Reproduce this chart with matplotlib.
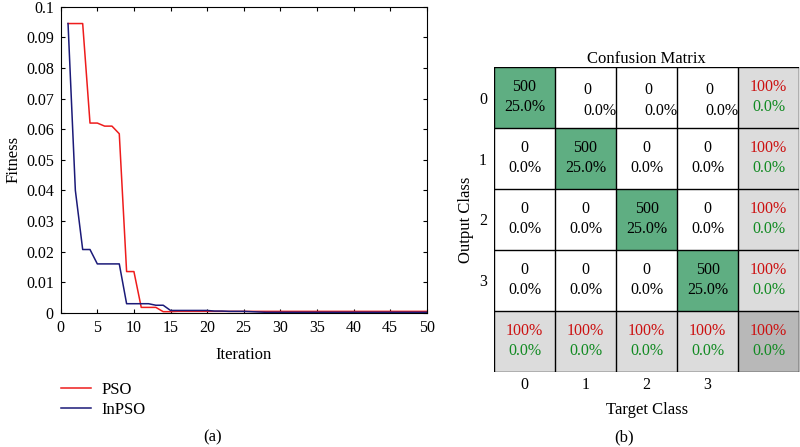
import matplotlib
matplotlib.use('Agg')
import matplotlib.pyplot as plt
import numpy as np

plt.rcParams['font.family'] = ['Liberation Serif', 'DejaVu Serif']
plt.rcParams['font.size'] = 11.5

# 收敛曲线数据
iterations = list(range(1, 51))
pso = [0.0945, 0.0945, 0.0945, 0.062, 0.062, 0.061, 0.061, 0.0585, 0.0135, 0.0135,
       0.0018, 0.0018, 0.0018, 0.0004, 0.0004] + [0.0005] * 35
inpso = [0.0945, 0.040, 0.0207, 0.0207, 0.016, 0.016, 0.016, 0.016, 0.003, 0.003,
         0.003, 0.003, 0.0025, 0.0025, 0.0008, 0.0008, 0.0008, 0.0008, 0.0008, 0.0008,
         0.0006, 0.0006, 0.0005, 0.0005, 0.0005, 0.0004, 0.0003] + [0.0002] * 23

# 混淆矩阵数据
classes = ['0', '1', '2', '3']
counts = [[500, 0, 0, 0],
          [0, 500, 0, 0],
          [0, 0, 500, 0],
          [0, 0, 0, 500]]
row_acc = ['100%', '100%', '100%', '100%']
col_acc = ['100%', '100%', '100%', '100%']
all_acc = '100%'

fig = plt.figure(figsize=(8, 4.47), dpi=100)

# (a) 适应度曲线
ax1 = fig.add_axes([0.0759, 0.300, 0.4575, 0.685])
l1, = ax1.plot(iterations, pso, color='#ee1c1c', lw=1.1, label='PSO')
l2, = ax1.plot(iterations, inpso, color='#1b1a78', lw=1.1, label='InPSO')
ax1.set_xlim(0, 50)
ax1.set_ylim(0, 0.1)
ax1.set_xticks(range(0, 51, 5))
ax1.set_yticks(np.arange(0, 0.101, 0.01))
ax1.set_yticklabels(['0', '0.01', '0.02', '0.03', '0.04', '0.05', '0.06', '0.07',
                     '0.08', '0.09', '0.1'])
ax1.tick_params(direction='in', top=True, right=True, length=3, pad=5)
ax1.set_xlabel('Iteration', fontsize=12, labelpad=8)
ax1.set_ylabel('Fitness', fontsize=12, labelpad=3)
fig.legend(handles=[l1, l2], loc='upper left', bbox_to_anchor=(0.058, 0.18),
           frameon=False, handlelength=1.8, handletextpad=0.6, fontsize=12,
           labelspacing=0.25)
fig.text(0.266, 0.022, '(a)', ha='center', va='center', fontsize=12)

# (b) 混淆矩阵
ax2 = fig.add_axes([0.6175, 0.168, 0.3815, 0.682])
n = len(classes)
total = sum(sum(r) for r in counts)
green = np.array([95, 174, 130]) / 255
white = np.array([1.0, 1.0, 1.0])
grey = np.array([220, 220, 220]) / 255
dark = np.array([184, 184, 184]) / 255
img = np.zeros((n + 1, n + 1, 3))
for i in range(n + 1):
    for j in range(n + 1):
        if i == n and j == n:
            img[i, j] = dark
        elif i == n or j == n:
            img[i, j] = grey
        elif i == j:
            img[i, j] = green
        else:
            img[i, j] = white
ax2.imshow(img, extent=(-0.5, n + 0.5, n + 0.5, -0.5), aspect='auto')
for k in range(n + 2):
    ax2.axhline(k - 0.5, color='black', lw=1.0)
    ax2.axvline(k - 0.5, color='black', lw=1.0)

for i in range(n):
    for j in range(n):
        c = counts[i][j]
        pct = f'{100 * c / total:.1f}%'
        if i == 0 and i != j:
            ax2.text(j - 0.03, i - 0.12, str(c), ha='left', va='center', fontsize=11.5)
            ax2.text(j - 0.03, i + 0.22, pct, ha='left', va='center', fontsize=11.5)
        else:
            ax2.text(j, i - 0.17, str(c), ha='center', va='center', fontsize=11.5)
            ax2.text(j, i + 0.16, pct, ha='center', va='center', fontsize=11.5)
    ax2.text(n, i - 0.17, row_acc[i], ha='center', va='center', color='#cc1111', fontsize=11.5)
    ax2.text(n, i + 0.16, '0.0%', ha='center', va='center', color='#118a22', fontsize=11.5)
for j in range(n):
    ax2.text(j, n - 0.17, col_acc[j], ha='center', va='center', color='#cc1111', fontsize=11.5)
    ax2.text(j, n + 0.16, '0.0%', ha='center', va='center', color='#118a22', fontsize=11.5)
ax2.text(n, n - 0.17, all_acc, ha='center', va='center', color='#cc1111', fontsize=11.5)
ax2.text(n, n + 0.16, '0.0%', ha='center', va='center', color='#118a22', fontsize=11.5)

ax2.set_xlim(-0.5, n + 0.5)
ax2.set_ylim(n + 0.5, -0.5)
ax2.set_xticks(range(n))
ax2.set_xticklabels(classes)
ax2.set_yticks(range(n))
ax2.set_yticklabels(classes)
ax2.tick_params(axis='x', length=0, pad=4)
ax2.tick_params(axis='y', length=0, pad=5)
for s in ax2.spines.values():
    s.set_visible(False)
ax2.set_title('Confusion Matrix', fontsize=12, pad=1)
ax2.set_xlabel('Target Class', fontsize=12, labelpad=6)
ax2.set_ylabel('Output Class', fontsize=12, labelpad=4)
fig.text(0.78, 0.022, '(b)', ha='center', va='center', fontsize=12)

plt.savefig('out.png', dpi=100)
